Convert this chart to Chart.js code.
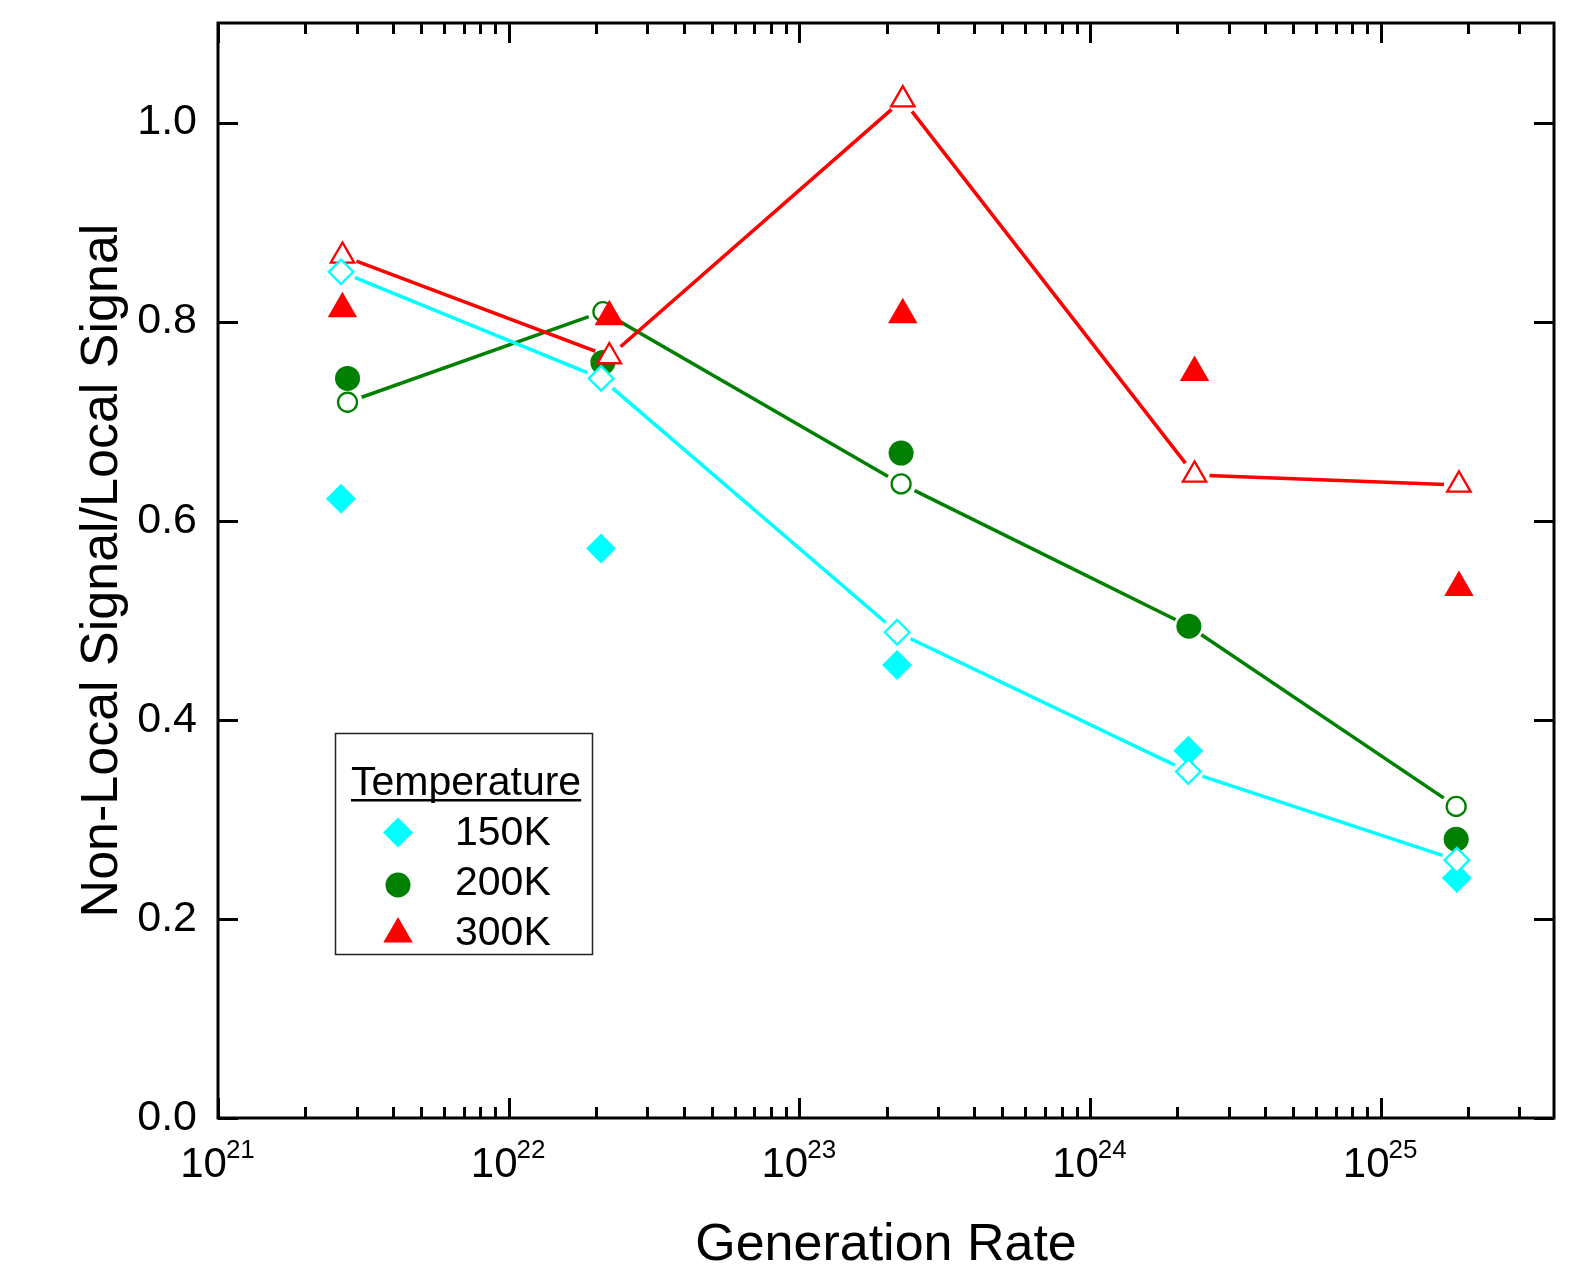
<!DOCTYPE html>
<html>
<head>
<meta charset="utf-8">
<title>Non-Local Signal / Local Signal vs Generation Rate</title>
<script src="https://cdn.jsdelivr.net/npm/chart.js@4.4.1/dist/chart.umd.min.js"></script>
<style>
  html, body { margin: 0; padding: 0; background: #fff; }
  #wrap { width: 1592px; height: 1274px; position: relative; }
</style>
</head>
<body>
<div id="wrap"><canvas id="chart"></canvas></div>
<script>
// ---- data ----
const seriesNames = ['150K', '200K', '300K'];
const legendTitle = 'Temperature';

const rates150 = [2.65e21, 2.08e22, 2.17e23, 2.18e24, 1.83e25];
const rates200 = [2.79e21, 2.11e22, 2.24e23, 2.19e24, 1.82e25];
const rates300 = [2.68e21, 2.22e22, 2.27e23, 2.29e24, 1.86e25];

// solid symbols (no line) and open symbols (joined by a line)
const filled150 = [0.622, 0.572, 0.455, 0.369, 0.241];
const open150   = [0.850, 0.743, 0.488, 0.348, 0.259];
const filled200 = [0.743, 0.759, 0.668, 0.494, 0.280];
const open200   = [0.719, 0.810, 0.637, 0.494, 0.313];
const filled300 = [0.813, 0.805, 0.807, 0.749, 0.533];
const open300   = [0.866, 0.765, 1.023, 0.646, 0.636];

const yTickLabels = ['0.0', '0.2', '0.4', '0.6', '0.8', '1.0'];
const xDecades = [21, 22, 23, 24, 25];

// ---- styling ----
const FONT = '"Liberation Sans", Arial, Helvetica, sans-serif';
const colors = { '150K': '#00FFFF', '200K': '#008000', '300K': '#FF0000' };
const shapes = { '150K': 'rectRot', '200K': 'circle', '300K': 'triangle' };
const solidRadius = { '150K': 15, '200K': 12.5, '300K': 17 };
const openRadius = { '150K': 12.3, '200K': 9.5, '300K': 13.5 };

function pts(xs, ys) { return xs.map((x, i) => ({ x: x, y: ys[i] })); }

function lineSet(name, xs, ys, order) {
  return {
    label: name + ' line', data: pts(xs, ys), showLine: true, fill: false,
    borderColor: colors[name], borderWidth: 3.5, pointRadius: 0, pointHoverRadius: 0,
    tension: 0, gapRadius: 15, order: order
  };
}
function openSet(name, xs, ys, order) {
  return {
    label: name + ' open', data: pts(xs, ys), showLine: false,
    pointStyle: shapes[name], pointRadius: openRadius[name], pointHoverRadius: openRadius[name],
    pointBackgroundColor: '#FFFFFF', pointBorderColor: colors[name], pointBorderWidth: 2.3,
    order: order
  };
}
function solidSet(name, xs, ys, order) {
  return {
    label: name, data: pts(xs, ys), showLine: false,
    pointStyle: shapes[name], pointRadius: solidRadius[name], pointHoverRadius: solidRadius[name],
    pointBackgroundColor: colors[name], pointBorderColor: colors[name], pointBorderWidth: 0,
    order: order
  };
}

// listed bottom layer first; a smaller order is painted later (on top)
const datasets = [
  lineSet('200K', rates200, open200, 9),
  openSet('200K', rates200, open200, 8),
  solidSet('200K', rates200, filled200, 7),
  solidSet('300K', rates300, filled300, 6),
  lineSet('300K', rates300, open300, 5),
  openSet('300K', rates300, open300, 4),
  solidSet('150K', rates150, filled150, 3),
  lineSet('150K', rates150, open150, 2),
  openSet('150K', rates150, open150, 1)
];

// Lines stop short of each symbol: clip a small disc around every point
const lineGaps = {
  id: 'lineGaps',
  beforeDatasetDraw(chart, args) {
    const ds = chart.data.datasets[args.index];
    if (!ds.gapRadius) return;
    const ctx = chart.ctx;
    ctx.save();
    ctx.beginPath();
    ctx.rect(0, 0, chart.width, chart.height);
    args.meta.data.forEach(p => {
      ctx.moveTo(p.x + ds.gapRadius, p.y);
      ctx.arc(p.x, p.y, ds.gapRadius, 0, Math.PI * 2);
    });
    ctx.clip('evenodd');
  },
  afterDatasetDraw(chart, args) {
    const ds = chart.data.datasets[args.index];
    if (ds.gapRadius) chart.ctx.restore();
  }
};

// Boxed frame with inward ticks on all four sides, plus 10^n labels
const frameAndTicks = {
  id: 'frameAndTicks',
  afterDatasetsDraw(chart) {
    const { ctx, chartArea: { left, right, top, bottom }, scales: { x, y } } = chart;
    ctx.save();
    ctx.strokeStyle = '#000';
    ctx.lineWidth = 3;
    ctx.lineCap = 'butt';
    ctx.beginPath();
    // y ticks
    y.ticks.forEach(t => {
      const py = Math.round(y.getPixelForValue(t.value)) + 0.5;
      const len = (t.label !== null && t.label !== undefined) ? 20 : 11;
      ctx.moveTo(left, py); ctx.lineTo(left + len, py);
      ctx.moveTo(right, py); ctx.lineTo(right - len, py);
    });
    // x ticks (log decades and their minor steps)
    xDecades.forEach(n => {
      for (let k = 1; k <= 9; k++) {
        const v = k * Math.pow(10, n);
        if (v < x.min || v > x.max) continue;
        const px = Math.round(x.getPixelForValue(v)) + 0.5;
        const len = k === 1 ? 20 : 11;
        ctx.moveTo(px, bottom); ctx.lineTo(px, bottom - len);
        ctx.moveTo(px, top); ctx.lineTo(px, top + len);
      }
    });
    ctx.stroke();
    ctx.strokeRect(left, top, right - left, bottom - top);

    // decade labels with raised exponent
    ctx.fillStyle = '#000';
    ctx.textBaseline = 'alphabetic';
    ctx.textAlign = 'left';
    xDecades.forEach(n => {
      const px = x.getPixelForValue(Math.pow(10, n));
      const exp = String(n);
      ctx.font = '42px ' + FONT;
      const wb = ctx.measureText('10').width;
      ctx.font = '26px ' + FONT;
      const we = ctx.measureText(exp).width;
      const start = px - (wb + we) / 2;
      ctx.font = '42px ' + FONT;
      ctx.fillText('10', start, bottom + 59);
      ctx.font = '26px ' + FONT;
      ctx.fillText(exp, start + wb - 1, bottom + 40);
    });
    ctx.restore();
  }
};

// Boxed legend inside the plot with an underlined heading
const boxLegend = {
  id: 'boxLegend',
  afterDraw(chart) {
    const { ctx, chartArea } = chart;
    const bx = chartArea.left + 117, by = chartArea.top + 710, bw = 258, bh = 222;
    ctx.save();
    ctx.fillStyle = '#FFFFFF';
    ctx.fillRect(bx, by, bw, bh);
    ctx.strokeStyle = '#222';
    ctx.lineWidth = 1.5;
    ctx.strokeRect(bx + 0.5, by + 0.5, bw - 1, bh - 1);

    ctx.fillStyle = '#000';
    ctx.textAlign = 'left';
    ctx.textBaseline = 'alphabetic';
    ctx.font = '41px ' + FONT;
    ctx.fillText(legendTitle, bx + 16, by + 62);
    const tw = ctx.measureText(legendTitle).width;
    ctx.fillRect(bx + 16, by + 66, tw, 2.5);

    const rowsY = [99.5, 152, 201];
    const textY = [112, 162, 212];
    seriesNames.forEach((name, i) => {
      const cx = bx + 63, cy = by + rowsY[i];
      ctx.fillStyle = colors[name];
      ctx.strokeStyle = colors[name];
      Chart.helpers.drawPoint(ctx, {
        pointStyle: shapes[name], radius: solidRadius[name], rotation: 0, borderWidth: 0
      }, cx, cy);
      ctx.fillStyle = '#000';
      ctx.font = '41px ' + FONT;
      ctx.fillText(name, bx + 120, by + textY[i]);
    });
    ctx.restore();
  }
};

Chart.defaults.font.family = FONT;
Chart.defaults.color = '#000';

new Chart(document.getElementById('chart'), {
  type: 'scatter',
  data: { datasets: datasets },
  options: {
    responsive: true,
    maintainAspectRatio: false,
    devicePixelRatio: 1,
    animation: false,
    events: [],
    layout: { padding: { top: 23, right: 38, left: 0, bottom: 0 } },
    plugins: { legend: { display: false }, tooltip: { enabled: false } },
    scales: {
      x: {
        type: 'logarithmic',
        position: 'bottom',
        min: 1e21,
        max: 3.95e25,
        grid: { display: false, drawTicks: false },
        border: { display: false },
        ticks: { display: false },
        title: {
          display: true, text: 'Generation Rate', color: '#000',
          font: { size: 52, family: FONT, lineHeight: 1.1 }, padding: { top: 0, bottom: 0 }
        },
        afterFit(s) { s.height = 156; }
      },
      y: {
        type: 'linear',
        position: 'left',
        min: 0,
        max: 1.1,
        grid: { display: false, drawTicks: false },
        border: { display: false },
        ticks: {
          stepSize: 0.1, padding: 21, color: '#000',
          font: { size: 43, family: FONT },
          callback(v) {
            const s = Number(v).toFixed(1);
            return yTickLabels.includes(s) ? s : null;
          }
        },
        title: {
          display: true, text: 'Non-Local Signal/Local Signal', color: '#000',
          font: { size: 52, family: FONT, lineHeight: 1.2 }, padding: { top: 71, bottom: 0 }
        },
        afterFit(s) { s.width = 218; s.paddingTop = 0; s.paddingBottom = 0; }
      }
    }
  },
  plugins: [lineGaps, frameAndTicks, boxLegend]
});
</script>
</body>
</html>
